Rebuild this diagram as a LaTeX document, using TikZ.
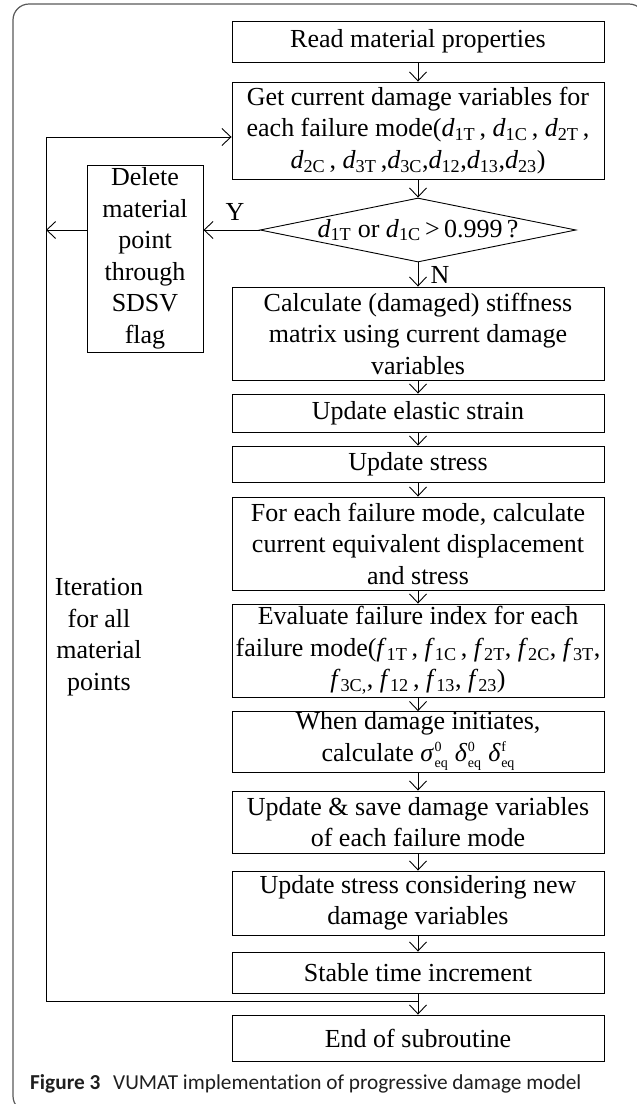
\documentclass[tikz,border=0pt]{standalone}
\usepackage{fontspec}
\setmainfont{Liberation Serif}
\newfontfamily\capfont[Ligatures=NoCommon]{Carlito}
\usetikzlibrary{arrows.meta,shapes.geometric}
\newcommand\dd[2]{\textit{#1}\textsubscript{#2}}
\newcommand\eqv[2]{\textit{#1}\kern0.5pt\raisebox{-6.5pt}{\fontsize{14}{16}\selectfont\begin{tabular}[b]{@{}l@{}}#2\\eq\end{tabular}}}
\begin{document}
\begin{tikzpicture}[x=1pt,y=-1pt,
  txt/.style={font=\fontsize{26}{31.5}\selectfont, align=center, inner sep=0pt},
  box/.style={txt, draw, line width=0.9pt, minimum width=372pt},
  arr/.style={line width=0.9pt, -{Straight Barb[length=9pt,width=17pt,line width=0.9pt]}},
  ln/.style={line width=0.9pt}]
\useasboundingbox (0,0) rectangle (637,1104);
\clip (0,0) rectangle (637,1104);
\draw[line width=1.2pt, black!65, rounded corners=16pt] (13,4) rectangle (645,1112);

\node[box, minimum height=41pt] (b1) at (418,41.5) {Read material properties};
\node[box, minimum height=97pt] (b2) at (418,130.5) {Get current damage variables for\\each failure mode(\dd{d}{1T}\,, \dd{d}{1C}\,, \dd{d}{2T}\,,\\\dd{d}{2C}\,, \dd{d}{3T}\,,\dd{d}{3C},\dd{d}{12},\dd{d}{13},\dd{d}{23})};
\node[txt, draw, line width=0.9pt, shape=diamond, aspect=4.94, minimum width=316pt, minimum height=64pt] (dia) at (418,230) {\dd{d}{1T} or \dd{d}{1C}\,>\,0.999\,?};
\node[box, minimum height=93pt] (b3) at (418,333.5) {Calculate (damaged) stiffness\\matrix using current damage\\variables};
\node[box, minimum height=38pt] (b4) at (418,413) {Update elastic strain};
\node[box, minimum height=36pt] (b5) at (418,464) {Update stress};
\node[box, minimum height=93pt] (b6) at (418,543.5) {For each failure mode, calculate\\current equivalent displacement\\and stress};
\node[box, minimum height=93pt] (b7) at (418,650.5) {Evaluate failure index for each\\failure mode(\dd{f}{1T}\,, \dd{f}{1C}\,, \dd{f}{2T}, \dd{f}{2C}, \dd{f}{3T},\\\dd{f}{3C,}, \dd{f}{12}\,, \dd{f}{13}, \dd{f}{23})};
\node[box, minimum height=60pt] (b8) at (418,742) {When damage initiates,\\calculate \eqv{σ}{0}\;\eqv{δ}{0}\;\eqv{δ}{f}};
\node[box, minimum height=62pt] (b9) at (418,822) {Update \& save damage variables\\of each failure mode};
\node[box, minimum height=64pt] (b10) at (418,903) {Update stress considering new\\damage variables};
\node[box, minimum height=41pt] (b11) at (418,972.5) {Stable time increment};
\node[box, minimum height=46pt] (b12) at (418,1038) {End of subroutine};

\node[box, minimum width=116pt, minimum height=187pt] (del) at (145,258.5) {Delete\\material\\point\\through\\SDSV\\flag};
\node[txt] (iter) at (99,637) {Iteration\\for all\\material\\points};
\node[txt] (ylab) at (235,212) {Y};
\node[txt] (nlab) at (440,275) {N};

\draw[arr] (b1) -- (b2);
\draw[arr] (b2) -- (dia);
\draw[arr] (dia) -- (b3);
\draw[arr] (b3) -- (b4);
\draw[arr] (b4) -- (b5);
\draw[arr] (b5) -- (b6);
\draw[arr] (b6) -- (b7);
\draw[arr] (b7) -- (b8);
\draw[arr] (b8) -- (b9);
\draw[arr] (b9) -- (b10);
\draw[arr] (b10) -- (b11);
\draw[arr] (b11) -- (b12);

\coordinate (lp) at (418,1001);
\coordinate (lb) at (46,1001);
\coordinate (lt) at (46,137);
\draw[arr] (lp) -- (lb) -- (lt) -- (lt -| b2.west);
\draw[arr] (dia.west) -- (dia.west -| del.east);
\draw[arr] (dia.west -| del.west) -- (dia.west -| lb);

\node[anchor=base west, inner sep=0pt, text=black!88, font=\capfont\fontsize{21.3}{24}\selectfont] (cap) at (30,1089) {\textbf{Figure 3}\hspace{0.6em}VUMAT implementation of progressive damage model};
\end{tikzpicture}
\end{document}
